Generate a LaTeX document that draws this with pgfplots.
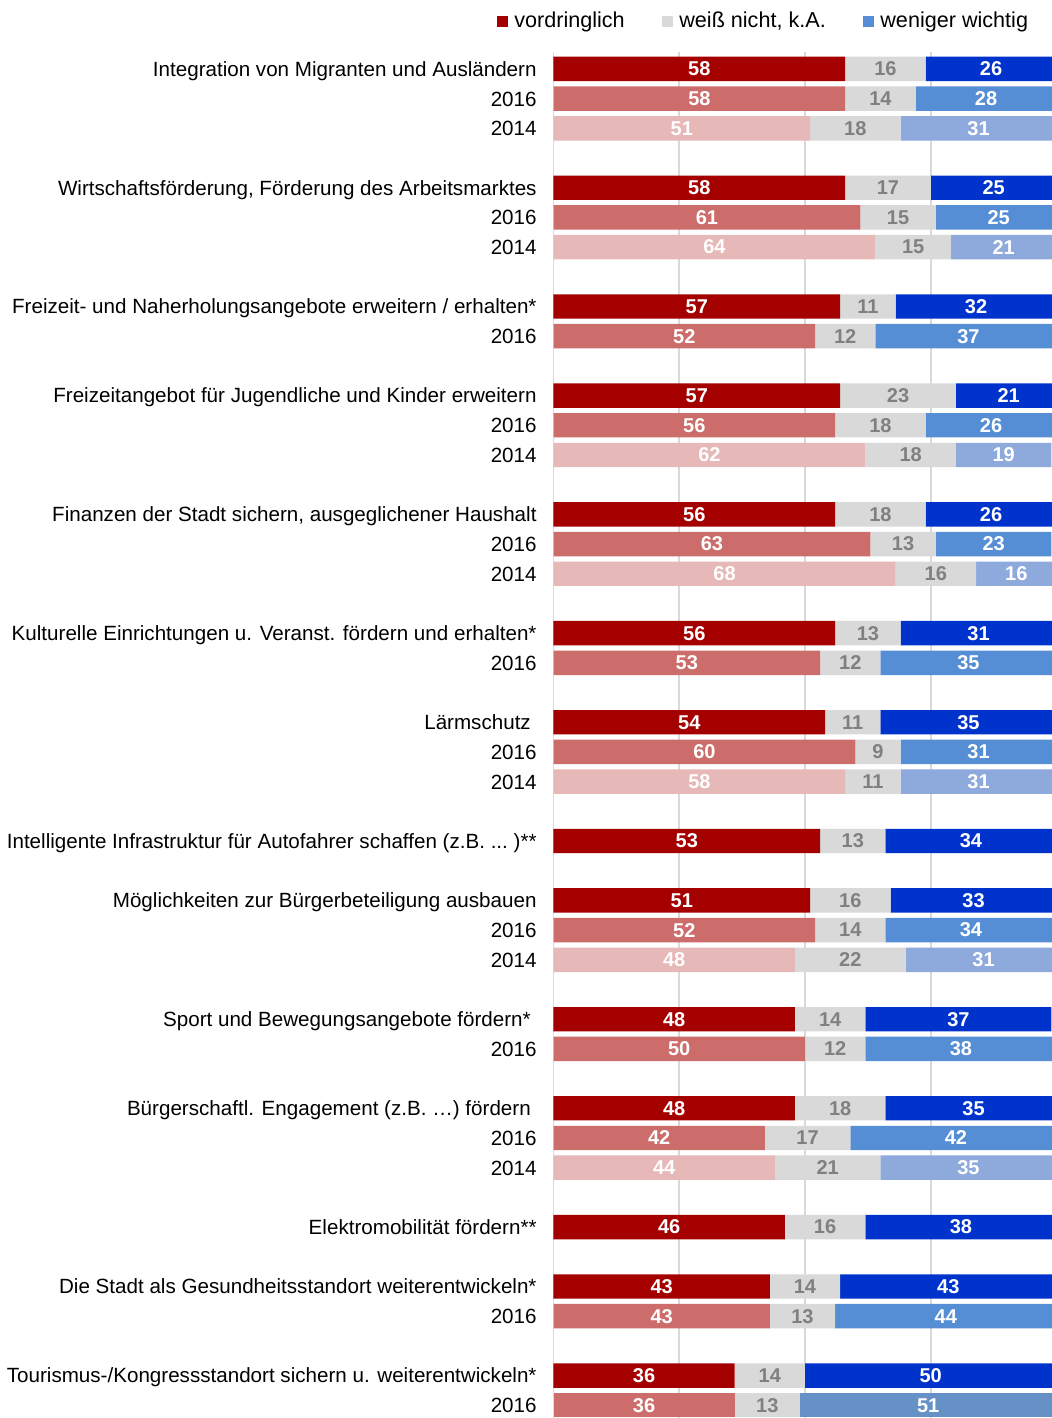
\documentclass[border=0pt]{standalone}
\usepackage{pgfplots}
\pgfplotsset{compat=1.18}
\usepackage{pgfplotstable}
\usepackage{fontspec}
\setmainfont{Liberation Sans}

\definecolor{rA}{HTML}{A50000}
\definecolor{rB}{HTML}{CC6D6B}
\definecolor{rC}{HTML}{E6B8B7}
\definecolor{gr}{HTML}{D9D9D9}
\definecolor{bA}{HTML}{0033CC}
\definecolor{bB}{HTML}{558ED5}
\definecolor{bC}{HTML}{8EA9DB}
\definecolor{bD}{HTML}{6591C6}
\definecolor{lblgrey}{HTML}{808080}
\definecolor{gridc}{HTML}{D9D9D9}
\newcommand{\tdots}{...}
\newcommand{\tsp}{\kern2.9pt\null}

% main rows (current survey)
\pgfplotstableread{
pos r g b
0 58 16 26
4 58 17 25
8 57 11 32
11 57 23 21
15 56 18 26
19 56 13 31
22 54 11 35
26 53 13 34
28 51 16 33
32 48 14 37
35 48 18 35
39 46 16 38
41 43 14 43
44 36 14 50
}\tmain
% 2016 rows
\pgfplotstableread{
pos r g b
1 58 14 28
5 61 15 25
9 52 12 37
12 56 18 26
16 63 13 23
20 53 12 35
23 60 9 31
29 52 14 34
33 50 12 38
36 42 17 42
42 43 13 44
}\tsixteen
% 2016 row (last)
\pgfplotstableread{
pos r g b
45 36 13 51
}\tsixteenb
% 2014 rows
\pgfplotstableread{
pos r g b
2 51 18 31
6 64 15 21
13 62 18 19
17 68 16 16
24 58 11 31
30 48 22 31
37 44 21 35
}\tfourteen

\newcommand{\seg}[4]{%
  \addplot[fill=#3, draw=none, forget plot,
    point meta=explicit symbolic,
    nodes near coords={\pgfplotspointmeta},
    every node near coord/.append style={text=#4,
      font=\bfseries\fontsize{10pt}{12pt}\selectfont,
      anchor=center}]
    table[x=#2, y=pos, meta=#2] {#1};
}

\pgfplotsset{
  base/.style={
    at={(0,0)}, anchor=south west,
    scale only axis, width=256.53pt, height=683pt,
    xmin=0, xmax=102, ymin=-0.57, ymax=45.43, y dir=reverse,
    xbar stacked, bar width=12.2pt,
  },
}

\begin{document}
\begin{tikzpicture}
\begin{axis}[base,
  axis line style={draw=none},
  tick style={draw=none},
  xtick={0,25,50,75}, xticklabels={},
  xmajorgrids, major grid style={draw=gridc, line width=0.8pt},
  ytick={0,1,2,4,5,6,8,9,11,12,13,15,16,17,19,20,22,23,24,26,28,29,30,32,33,35,36,37,39,41,42,44,45},
  yticklabels={
    Integration von Migranten und Ausländern, 2016, 2014,
    {Wirtschaftsförderung, Förderung des Arbeitsmarktes}, 2016, 2014,
    Freizeit- und Naherholungsangebote erweitern / erhalten*, 2016,
    Freizeitangebot für Jugendliche und Kinder erweitern, 2016, 2014,
    {Finanzen der Stadt sichern, ausgeglichener Haushalt}, 2016, 2014,
    Kulturelle Einrichtungen u. Veranst. fördern und erhalten*, 2016,
    Lärmschutz\tsp, 2016, 2014,
    {Intelligente Infrastruktur für Autofahrer schaffen (z.B. \tdots\ )**},
    Möglichkeiten zur Bürgerbeteiligung ausbauen, 2016, 2014,
    Sport und Bewegungsangebote fördern*\tsp, 2016,
    Bürgerschaftl. Engagement (z.B. …) fördern\tsp, 2016, 2014,
    Elektromobilität fördern**,
    Die Stadt als Gesundheitsstandort weiterentwickeln*, 2016,
    Tourismus-/Kongressstandort sichern u. weiterentwickeln*, 2016
  },
  yticklabel style={font=\fontsize{10.3pt}{12pt}\selectfont, anchor=base east,
    inner sep=0pt, xshift=-8.25pt, yshift=-3.7pt},
  legend columns=3,
  legend style={at={(-0.1095,1.0228)}, anchor=west, draw=none, fill=none,
    inner sep=0pt, outer sep=0pt,
    font=\fontsize{10.8pt}{12pt}\selectfont,
    nodes={anchor=base west, inner sep=0pt},
    /tikz/every odd column/.append style={column sep=3.3pt},
    /tikz/every even column/.append style={column sep=18.8pt}},
]
\seg{\tmain}{r}{rA}{white}
\seg{\tmain}{g}{gr}{lblgrey}
\seg{\tmain}{b}{bA}{white}
\addlegendimage{legend image code/.code={\fill[rA] (0pt,0.25pt) rectangle (4.8pt,5.3pt);}}
\addlegendentry{vordringlich}
\addlegendimage{legend image code/.code={\fill[gr] (0pt,0.25pt) rectangle (4.8pt,5.3pt);}}
\addlegendentry{weiß nicht, k.A.}
\addlegendimage{legend image code/.code={\fill[bB] (0pt,0.25pt) rectangle (4.8pt,5.3pt);}}
\addlegendentry{weniger wichtig}
\end{axis}

\begin{axis}[base, hide axis]
\seg{\tsixteen}{r}{rB}{white}
\seg{\tsixteen}{g}{gr}{lblgrey}
\seg{\tsixteen}{b}{bB}{white}
\end{axis}

\begin{axis}[base, hide axis]
\seg{\tsixteenb}{r}{rB}{white}
\seg{\tsixteenb}{g}{gr}{lblgrey}
\seg{\tsixteenb}{b}{bD}{white}
\end{axis}

\begin{axis}[base, hide axis]
\seg{\tfourteen}{r}{rC}{white}
\seg{\tfourteen}{g}{gr}{lblgrey}
\seg{\tfourteen}{b}{bC}{white}
\end{axis}

\pgfresetboundingbox
\path[use as bounding box] (-276.75pt,0pt) rectangle (248.75pt,709pt);
\end{tikzpicture}
\end{document}
